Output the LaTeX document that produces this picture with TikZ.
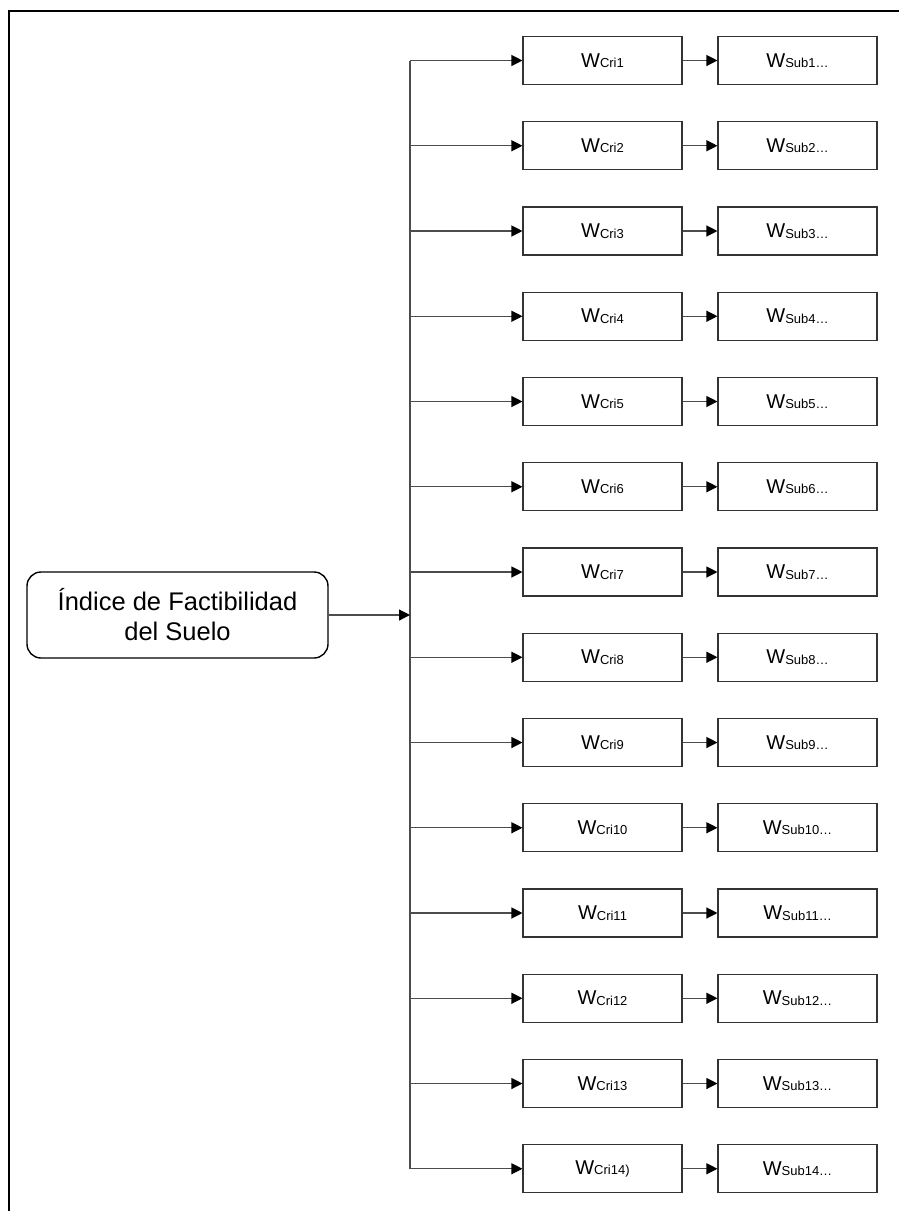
\documentclass[tikz,border=0pt]{standalone}
\usepackage{fontspec}
\setmainfont{Liberation Sans}
\usetikzlibrary{arrows.meta}
\begin{document}
\begin{tikzpicture}[x=1pt,y=-1pt,
  box/.style={draw=black!80, line width=1.1pt, minimum width=159pt, minimum height=48pt, inner sep=0pt, font=\fontsize{20}{22}\selectfont},
  mainbox/.style={draw=black, line width=1.4pt, rounded corners=14pt, minimum width=301pt, minimum height=86pt, inner sep=0pt, align=center, font=\fontsize{25.5}{30}\selectfont},
  conn/.style={draw=black!70, line width=1.2pt, -{Triangle[length=11pt,width=11pt,color=black]}},
  trunk/.style={draw=black!70, line width=1.2pt},
  frame/.style={draw=black, line width=2.2pt}]
\newcommand{\subtxt}[1]{{\fontsize{13}{14}\selectfont\raisebox{-0.5pt}{#1}}}
\useasboundingbox (0,0) rectangle (898,1211);
\draw[frame] (9,1212) -- (9,11) -- (899,11);
\node[mainbox] (main) at (177.5,615) {Índice de Factibilidad\\del Suelo};
\foreach \i/\lab in {1/1,2/2,3/3,4/4,5/5,6/6,7/7,8/8,9/9,10/10,11/11,12/12,13/13,14/14)} {
  \pgfmathsetmacro{\yy}{60.5+(\i-1)*85.25}
  \node[box] (c\i) at (602.5,\yy) {W\subtxt{Cri\lab}};
  \coordinate (j\i) at (410,\yy);
  \draw[conn] (j\i) -- (c\i.west);
}
\foreach \i in {1,...,14} {
  \node[box] (s\i) at (797.5,{60.5+(\i-1)*85.25}) {W\subtxt{Sub\i…}};
  \draw[conn] (c\i.east) -- (s\i.west);
}
\draw[trunk] (j1) -- (j14);
\draw[conn] (main.east) -- (main.east -| j1);
\end{tikzpicture}
\end{document}
